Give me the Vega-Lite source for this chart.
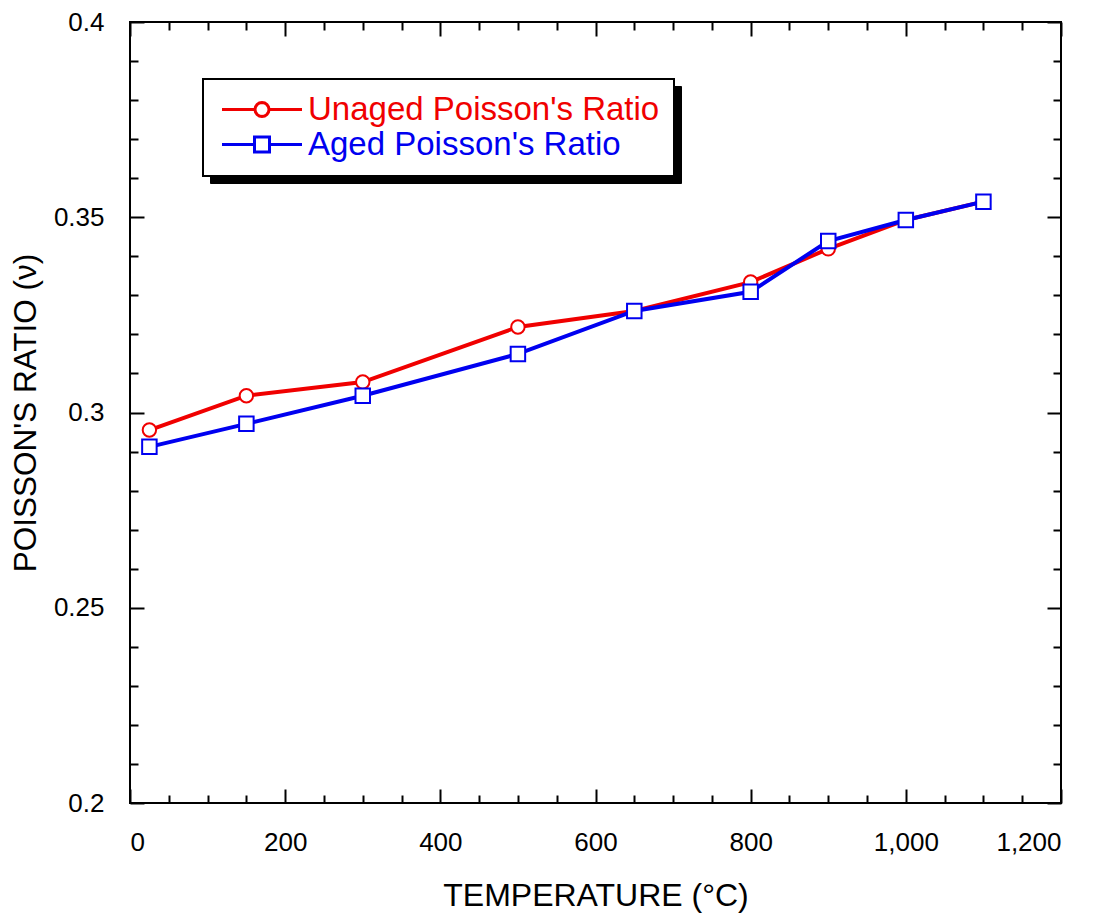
{
  "$schema": "https://vega.github.io/schema/vega-lite/v6.json",
  "width": 931,
  "height": 781,
  "autosize": {"type": "none"},
  "padding": {"left": 130, "top": 22, "right": 42, "bottom": 112},
  "background": "white",
  "config": {
    "view": {"stroke": "black", "strokeWidth": 2},
    "font": "Liberation Sans",
    "axis": {
      "domain": false, "grid": false, "tickColor": "black", "tickWidth": 2,
      "labelColor": "black", "labelFont": "Liberation Sans", "labelFontSize": 26,
      "titleFont": "Liberation Sans", "titleFontSize": 32, "titleFontWeight": "normal", "titleColor": "black"
    }
  },
  "data": {
    "values": [
      {"temp": 25, "nu": 0.2955, "series": "Unaged Poisson's Ratio"},
      {"temp": 150, "nu": 0.3043, "series": "Unaged Poisson's Ratio"},
      {"temp": 300, "nu": 0.3078, "series": "Unaged Poisson's Ratio"},
      {"temp": 500, "nu": 0.3219, "series": "Unaged Poisson's Ratio"},
      {"temp": 650, "nu": 0.326, "series": "Unaged Poisson's Ratio"},
      {"temp": 800, "nu": 0.3334, "series": "Unaged Poisson's Ratio"},
      {"temp": 900, "nu": 0.3419, "series": "Unaged Poisson's Ratio"},
      {"temp": 1000, "nu": 0.3493, "series": "Unaged Poisson's Ratio"},
      {"temp": 1100, "nu": 0.354, "series": "Unaged Poisson's Ratio"},
      {"temp": 25, "nu": 0.2912, "series": "Aged Poisson's Ratio"},
      {"temp": 150, "nu": 0.2971, "series": "Aged Poisson's Ratio"},
      {"temp": 300, "nu": 0.3043, "series": "Aged Poisson's Ratio"},
      {"temp": 500, "nu": 0.315, "series": "Aged Poisson's Ratio"},
      {"temp": 650, "nu": 0.326, "series": "Aged Poisson's Ratio"},
      {"temp": 800, "nu": 0.3309, "series": "Aged Poisson's Ratio"},
      {"temp": 900, "nu": 0.3439, "series": "Aged Poisson's Ratio"},
      {"temp": 1000, "nu": 0.3493, "series": "Aged Poisson's Ratio"},
      {"temp": 1100, "nu": 0.354, "series": "Aged Poisson's Ratio"}
    ]
  },
  "resolve": {"axis": {"x": "independent", "y": "independent"}},
  "layer": [
    {
      "transform": [{"filter": {"field": "series", "equal": "Unaged Poisson's Ratio"}}],
      "mark": {"type": "line", "strokeWidth": 4},
      "encoding": {
        "x": {"field": "temp", "type": "quantitative",
          "scale": {"domain": [0, 1200], "nice": false, "zero": false},
          "axis": {"orient": "bottom", "values": [0, 200, 400, 600, 800, 1000, 1200], "tickSize": -14, "labelPadding": 40, "format": ",d", "title": "TEMPERATURE (°C)", "titlePadding": 25}},
        "y": {"field": "nu", "type": "quantitative",
          "scale": {"domain": [0.2, 0.4], "nice": false, "zero": false},
          "axis": {"orient": "left", "values": [0.2, 0.25, 0.3, 0.35, 0.4], "tickSize": -14, "labelPadding": 40, "format": ".2~f", "title": "POISSON'S RATIO (ν)", "titleFontSize": 31.5, "titlePadding": 11}},
        "color": {"field": "series", "type": "nominal",
          "scale": {"domain": ["Unaged Poisson's Ratio", "Aged Poisson's Ratio"], "range": ["#f00000", "#0000f0"]},
          "legend": {
            "orient": "none", "legendX": 73, "legendY": 57, "title": null,
            "fillColor": "white", "strokeColor": "black", "padding": 14,
            "labelFont": "Liberation Sans", "labelFontSize": 33, "labelLimit": 0, "labelOffset": 29.5,
            "symbolSize": 400, "symbolStrokeWidth": 3, "symbolOffset": 28.5,
            "symbolType": "M-4,0L-0.7,0M0.7,0L4,0M0.7,0L0.6467,0.2679L0.495,0.495L0.2679,0.6467L0,0.7L-0.2679,0.6467L-0.495,0.495L-0.6467,0.2679L-0.7,0L-0.6467,-0.2679L-0.495,-0.495L-0.2679,-0.6467L0,-0.7L0.2679,-0.6467L0.495,-0.495L0.6467,-0.2679Z",
            "rowPadding": 1, "zindex": 2,
            "encode": {
              "legend": {"update": {"strokeWidth": {"value": 2}}},
              "symbols": {"update": {
                "shape": {"signal": "datum.index === 0 ? 'M-4,0L-0.7,0M0.7,0L4,0M0.7,0L0.6467,0.2679L0.495,0.495L0.2679,0.6467L0,0.7L-0.2679,0.6467L-0.495,0.495L-0.6467,0.2679L-0.7,0L-0.6467,-0.2679L-0.495,-0.495L-0.2679,-0.6467L0,-0.7L0.2679,-0.6467L0.495,-0.495L0.6467,-0.2679Z' : 'M-4,0L-0.75,0M0.75,0L4,0M-0.75,-0.75L0.75,-0.75L0.75,0.75L-0.75,0.75Z'"},
                "fill": {"value": "white"},
                "opacity": {"value": 1}
              }},
              "labels": {"update": {"fill": {"signal": "datum.index === 0 ? '#f00000' : '#0000f0'"}}}
            }
          }}
      }
    },
    {
      "transform": [{"filter": {"field": "series", "equal": "Unaged Poisson's Ratio"}}],
      "mark": {"type": "point", "shape": "circle", "size": 180, "fill": "white", "stroke": "#f00000", "strokeWidth": 2, "opacity": 1, "filled": false},
      "encoding": {
        "x": {"field": "temp", "type": "quantitative",
          "axis": {"orient": "bottom", "values": [50, 100, 150, 250, 300, 350, 450, 500, 550, 650, 700, 750, 850, 900, 950, 1050, 1100, 1150], "tickSize": -8, "labels": false, "title": null}},
        "y": {"field": "nu", "type": "quantitative",
          "axis": {"orient": "left", "values": [0.21, 0.22, 0.23, 0.24, 0.26, 0.27, 0.28, 0.29, 0.31, 0.32, 0.33, 0.34, 0.36, 0.37, 0.38, 0.39], "tickSize": -8, "labels": false, "title": null}}
      }
    },
    {
      "transform": [{"filter": {"field": "series", "equal": "Aged Poisson's Ratio"}}],
      "mark": {"type": "line", "strokeWidth": 4},
      "encoding": {
        "x": {"field": "temp", "type": "quantitative",
          "axis": {"orient": "top", "values": [0, 200, 400, 600, 800, 1000, 1200], "tickSize": -14, "labels": false, "title": null}},
        "y": {"field": "nu", "type": "quantitative",
          "axis": {"orient": "right", "values": [0.2, 0.25, 0.3, 0.35, 0.4], "tickSize": -14, "labels": false, "title": null}},
        "color": {"field": "series", "type": "nominal"}
      }
    },
    {
      "transform": [{"filter": {"field": "series", "equal": "Aged Poisson's Ratio"}}],
      "mark": {"type": "point", "shape": "square", "size": 210, "fill": "white", "stroke": "#0000f0", "strokeWidth": 2, "opacity": 1, "filled": false},
      "encoding": {
        "x": {"field": "temp", "type": "quantitative",
          "axis": {"orient": "top", "values": [50, 100, 150, 250, 300, 350, 450, 500, 550, 650, 700, 750, 850, 900, 950, 1050, 1100, 1150], "tickSize": -8, "labels": false, "title": null}},
        "y": {"field": "nu", "type": "quantitative",
          "axis": {"orient": "right", "values": [0.21, 0.22, 0.23, 0.24, 0.26, 0.27, 0.28, 0.29, 0.31, 0.32, 0.33, 0.34, 0.36, 0.37, 0.38, 0.39], "tickSize": -8, "labels": false, "title": null}}
      }
    },
    {
      "mark": {"type": "point", "opacity": 0},
      "encoding": {
        "x": {"field": "temp", "type": "quantitative", "axis": null},
        "y": {"field": "nu", "type": "quantitative", "axis": null},
        "shape": {"field": "series", "type": "nominal",
          "scale": {"range": ["M-4,0L-0.7,0M0.7,0L4,0M0.7,0L0.6467,0.2679L0.495,0.495L0.2679,0.6467L0,0.7L-0.2679,0.6467L-0.495,0.495L-0.6467,0.2679L-0.7,0L-0.6467,-0.2679L-0.495,-0.495L-0.2679,-0.6467L0,-0.7L0.2679,-0.6467L0.495,-0.495L0.6467,-0.2679Z", "M-4,0L-0.7,0M0.7,0L4,0M0.7,0L0.6467,0.2679L0.495,0.495L0.2679,0.6467L0,0.7L-0.2679,0.6467L-0.495,0.495L-0.6467,0.2679L-0.7,0L-0.6467,-0.2679L-0.495,-0.495L-0.2679,-0.6467L0,-0.7L0.2679,-0.6467L0.495,-0.495L0.6467,-0.2679Z"]},
          "legend": {
            "orient": "none", "legendX": 80, "legendY": 64, "title": null,
            "fillColor": "black", "strokeColor": "black", "padding": 14,
            "labelFont": "Liberation Sans", "labelFontSize": 33, "labelLimit": 0, "labelOffset": 381.5, "labelColor": "black",
            "labelExpr": "pad('', 38)",
            "symbolSize": 400, "symbolStrokeWidth": 3, "symbolOffset": 28.5,
            "symbolStrokeColor": "black", "symbolFillColor": "black",
            "rowPadding": 1, "zindex": 1,
            "encode": {"legend": {"update": {"strokeWidth": {"value": 2}}}}
          }}
      }
    }
  ]
}
